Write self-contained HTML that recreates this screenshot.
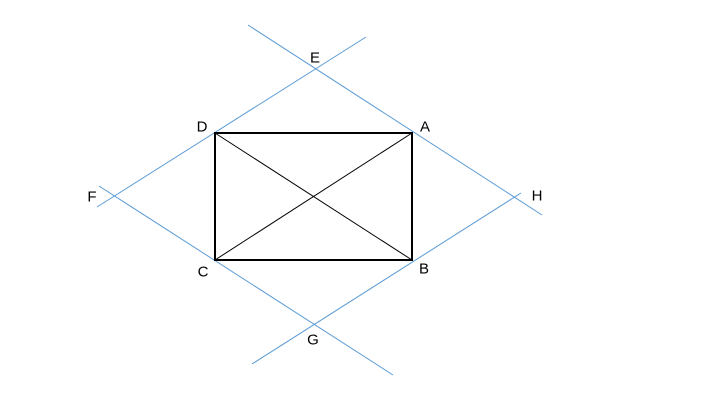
<!DOCTYPE html>
<html><head><style>html,body{margin:0;padding:0;background:#fff;}</style></head>
<body>
<svg width="704" height="411" xmlns="http://www.w3.org/2000/svg">
<g stroke="#5B9BD5" stroke-width="1">
<line x1="248" y1="25" x2="542" y2="215"/>
<line x1="366" y1="37" x2="97" y2="207"/>
<line x1="99" y1="186" x2="393" y2="375"/>
<line x1="252" y1="364" x2="521" y2="193"/>
</g>
<g stroke="#000">
<rect x="215" y="133" width="197" height="127" fill="none" stroke-width="2"/>
<line x1="215" y1="133" x2="412" y2="260" stroke-width="1"/>
<line x1="215" y1="260" x2="412" y2="133" stroke-width="1"/>
</g>
<g font-family="Liberation Sans, sans-serif" font-size="15" text-anchor="middle" dominant-baseline="central" fill="#000">
<text x="315" y="58">E</text>
<text x="202" y="127">D</text>
<text x="425" y="127">A</text>
<text x="92" y="197">F</text>
<text x="537" y="196">H</text>
<text x="203" y="272">C</text>
<text x="424" y="269">B</text>
<text x="313" y="340">G</text>
</g>
</svg>
</body></html>
